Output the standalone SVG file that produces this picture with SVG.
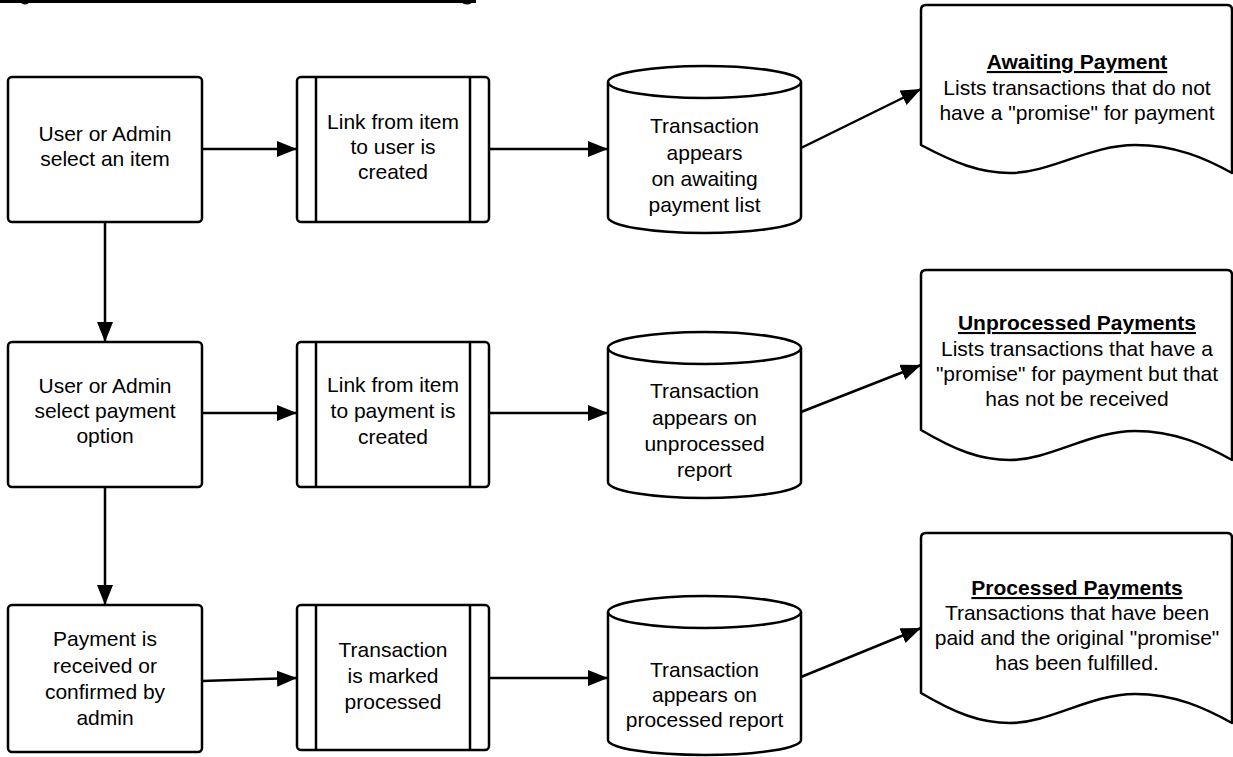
<svg xmlns="http://www.w3.org/2000/svg" width="1233" height="757" viewBox="0 0 1233 757">
<defs>
<style>
.s{fill:#fff;stroke:#000;stroke-width:2.5;stroke-linejoin:round}
.l{fill:none;stroke:#000;stroke-width:2.5}
.c{fill:none;stroke:#000;stroke-width:2.5}
text{font-family:"Liberation Sans",Arial,sans-serif;font-size:21px;fill:#000;text-anchor:middle}
.t{font-weight:bold;text-decoration:underline}
</style>
<marker id="ah" markerUnits="userSpaceOnUse" markerWidth="20" markerHeight="16" viewBox="0 0 20 16" refX="20" refY="8" orient="auto">
<path d="M0,0 L20,8 L0,16 Z" fill="#000"/>
</marker>
</defs>
<rect width="1233" height="757" fill="#fff"/>
<g id="title-underline">
<line x1="0" y1="1.5" x2="476" y2="1.5" stroke="#000" stroke-width="3"/>
<path d="M20,2 Q25,7 30,2 Z" fill="#000"/>
<path d="M461,2 Q467,7 473,2 Z" fill="#000"/>
</g>
<g id="connectors">
<line class="c" x1="202" y1="149" x2="297" y2="149" marker-end="url(#ah)"/>
<line class="c" x1="489" y1="149" x2="608" y2="149" marker-end="url(#ah)"/>
<line class="c" x1="801" y1="148" x2="921" y2="89" marker-end="url(#ah)"/>
<line class="c" x1="105" y1="222" x2="105" y2="342" marker-end="url(#ah)"/>
<line class="c" x1="202" y1="413" x2="297" y2="413" marker-end="url(#ah)"/>
<line class="c" x1="489" y1="413" x2="608" y2="413" marker-end="url(#ah)"/>
<line class="c" x1="801" y1="412" x2="921" y2="365" marker-end="url(#ah)"/>
<line class="c" x1="105" y1="487" x2="105" y2="605" marker-end="url(#ah)"/>
<line class="c" x1="202" y1="681" x2="297" y2="678" marker-end="url(#ah)"/>
<line class="c" x1="489" y1="678" x2="608" y2="678" marker-end="url(#ah)"/>
<line class="c" x1="801" y1="677" x2="921" y2="628" marker-end="url(#ah)"/>
</g>
<g id="n1">
<rect class="s" x="8" y="77" width="194" height="145" rx="4"/>
<text x="105" y="141">User or Admin</text>
<text x="105" y="166">select an item</text>
</g>
<g id="n2">
<rect class="s" x="297" y="77" width="192" height="145" rx="4"/>
<line class="l" x1="316" y1="77" x2="316" y2="222"/>
<line class="l" x1="470" y1="77" x2="470" y2="222"/>
<text x="393" y="129">Link from item</text>
<text x="393" y="154">to user is</text>
<text x="393" y="179">created</text>
</g>
<g id="n3">
<path class="s" d="M608,82 A96.5,16 0 0 1 801,82 L801,217 A96.5,16 0 0 1 608,217 Z"/>
<path class="l" d="M608,82 A96.5,16 0 0 0 801,82"/>
<text x="704.5" y="133">Transaction</text>
<text x="704.5" y="160">appears</text>
<text x="704.5" y="186">on awaiting</text>
<text x="704.5" y="212">payment list</text>
</g>
<g id="n4">
<path class="s" d="M921,145 L921,10 Q921,5 926,5 L1227,5 Q1232,5 1232,10 L1232,173 C1205,158 1175,145 1135,145 C1090,145 1050,173 1010,173 C980,173 955,163 921,145 Z"/>
<text class="t" x="1077" y="69">Awaiting Payment</text>
<text x="1077" y="95">Lists transactions that do not</text>
<text x="1077" y="120">have a "promise" for payment</text>
</g>
<g id="n5">
<rect class="s" x="8" y="342" width="194" height="145" rx="4"/>
<text x="105" y="393">User or Admin</text>
<text x="105" y="418">select payment</text>
<text x="105" y="443">option</text>
</g>
<g id="n6">
<rect class="s" x="297" y="342" width="192" height="145" rx="4"/>
<line class="l" x1="316" y1="342" x2="316" y2="487"/>
<line class="l" x1="470" y1="342" x2="470" y2="487"/>
<text x="393" y="392">Link from item</text>
<text x="393" y="418">to payment is</text>
<text x="393" y="444">created</text>
</g>
<g id="n7">
<path class="s" d="M608,348 A96.5,16 0 0 1 801,348 L801,482 A96.5,16 0 0 1 608,482 Z"/>
<path class="l" d="M608,348 A96.5,16 0 0 0 801,348"/>
<text x="704.5" y="398">Transaction</text>
<text x="704.5" y="425">appears on</text>
<text x="704.5" y="451">unprocessed</text>
<text x="704.5" y="477">report</text>
</g>
<g id="n8">
<path class="s" d="M921,430 L921,275 Q921,270 926,270 L1227,270 Q1232,270 1232,275 L1232,460 C1205,445 1175,431 1135,431 C1090,431 1050,460 1010,460 C980,460 955,450 921,430 Z"/>
<text class="t" x="1077" y="330">Unprocessed Payments</text>
<text x="1077" y="356">Lists transactions that have a</text>
<text x="1077" y="381">"promise" for payment but that</text>
<text x="1077" y="406">has not be received</text>
</g>
<g id="n9">
<rect class="s" x="8" y="605" width="194" height="147" rx="4"/>
<text x="105" y="646">Payment is</text>
<text x="105" y="673">received or</text>
<text x="105" y="699">confirmed by</text>
<text x="105" y="725">admin</text>
</g>
<g id="n10">
<rect class="s" x="297" y="605" width="192" height="145" rx="4"/>
<line class="l" x1="316" y1="605" x2="316" y2="750"/>
<line class="l" x1="470" y1="605" x2="470" y2="750"/>
<text x="393" y="657">Transaction</text>
<text x="393" y="683">is marked</text>
<text x="393" y="709">processed</text>
</g>
<g id="n11">
<path class="s" d="M608,612 A96.5,16 0 0 1 801,612 L801,740 A96.5,15 0 0 1 608,740 Z"/>
<path class="l" d="M608,612 A96.5,16 0 0 0 801,612"/>
<text x="704.5" y="677">Transaction</text>
<text x="704.5" y="702">appears on</text>
<text x="704.5" y="727">processed report</text>
</g>
<g id="n12">
<path class="s" d="M921,693 L921,538 Q921,533 926,533 L1227,533 Q1232,533 1232,538 L1232,723 C1205,708 1175,694 1135,694 C1090,694 1050,723 1010,723 C980,723 955,713 921,693 Z"/>
<text class="t" x="1077" y="595">Processed Payments</text>
<text x="1077" y="620">Transactions that have been</text>
<text x="1077" y="645">paid and the original "promise"</text>
<text x="1077" y="670">has been fulfilled.</text>
</g>
</svg>
